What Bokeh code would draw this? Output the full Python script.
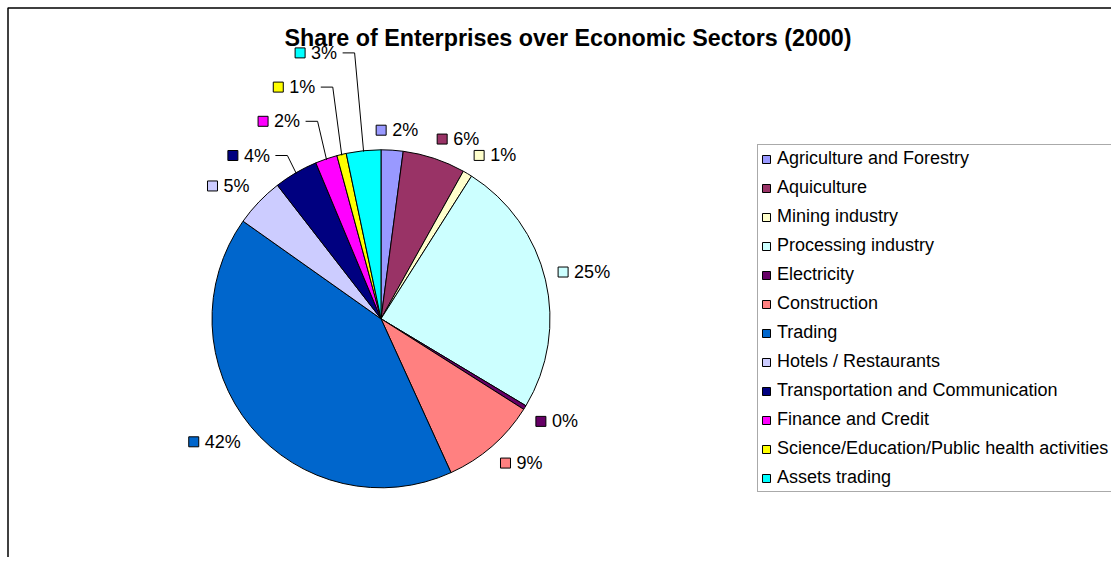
import math
from bokeh.plotting import figure
from bokeh.models import Range1d, Legend, LegendItem, Label, BoxAnnotation, ColumnDataSource
from bokeh.core.properties import value
from bokeh.embed import file_html
from bokeh.resources import INLINE

# ---------------- data ----------------
sectors = [
    "Agriculture and Forestry",
    "Aquiculture",
    "Mining industry",
    "Processing industry",
    "Electricity",
    "Construction",
    "Trading",
    "Hotels / Restaurants",
    "Transportation and Communication",
    "Finance and Credit",
    "Science/Education/Public health activities",
    "Assets trading",
]
shares = [2.1, 6.0, 0.9, 24.6, 0.4, 9.2, 41.6, 4.7, 4.2, 2.1, 0.9, 3.3]
colors = ["#9999FF", "#993366", "#FFFFCC", "#CCFFFF", "#660066", "#FF8080",
          "#0066CC", "#CCCCFF", "#000080", "#FF00FF", "#FFFF00", "#00FFFF"]
title_text = "Share of Enterprises over Economic Sectors (2000)"

# ---------------- layout ----------------
W, H = 1111, 557
CX, CY = 380.5, 318.3        # pie centre, px from figure's left / top
R = 169                      # pie radius, px
LABEL_R = 182                # distance of label anchor from centre
FONT = "Liberation Sans"
LABEL_PX = 18
LEADER_Y0, LEADER_DY = 163.3, 34.2
leader_level = [None] * 8 + [0, 1, 2, 3]

total = sum(shares)
fracs = [s / total for s in shares]
cum = [0.0]
for f in fracs:
    cum.append(cum[-1] + f)
start = [math.pi / 2 - 2 * math.pi * c for c in cum[:-1]]
end = [math.pi / 2 - 2 * math.pi * c for c in cum[1:]]
pct = [f"{round(f * 100)}%" for f in fracs]

p = figure(width=W, height=H,
           x_range=Range1d(-CX, W - CX), y_range=Range1d(-(H - CY), CY),
           output_backend="svg", toolbar_location=None,
           x_axis_location=None, y_axis_location=None,
           min_border=0, outline_line_color=None,
           background_fill_color="white", border_fill_color="white")
p.grid.visible = False

# chart-area border (its right / bottom edges fall outside the visible page)
p.add_layout(BoxAnnotation(left=7.5 - CX, top=CY - 7.5,
                           right=W - CX + 30, bottom=-(H - CY) - 30,
                           fill_alpha=0, line_color="black", line_width=1.5,
                           line_alpha=1.0))

src = ColumnDataSource(dict(name=sectors, start=start, end=end, color=colors))
wedges = p.wedge(x=0, y=0, radius=R, start_angle="start", end_angle="end",
                 direction="clock", fill_color="color", line_color="black",
                 line_width=1, source=src)

# ---------------- data labels ----------------
def clamp(v):
    return max(-1.0, min(1.0, v))

sq_x, sq_y, tx, ty = [], [], [], []
lead_xs, lead_ys = [], []
for i in range(len(shares)):
    th = 2 * math.pi * (cum[i] + cum[i + 1]) / 2
    s, c = math.sin(th), math.cos(th)
    w_text = LABEL_PX * (0.556 * (len(pct[i]) - 1) + 0.889)
    box_w = 16 + w_text
    hw, hh = box_w / 2, 7
    if leader_level[i] is None:
        ax, ay = LABEL_R * s, LABEL_R * c
        bx = ax + hw * clamp(3 * s)
        by = ay + hh * clamp(3 * c)
        left = bx - hw
        ly = by
    else:
        k = leader_level[i]
        ex, ey = (R - 1) * s, (R - 1) * c
        ly = LEADER_Y0 + LEADER_DY * k
        elbow = ex - 9
        text_end = elbow - 12 - 5.5
        left = text_end - w_text - 16
        lead_xs.append([ex, elbow, elbow - 12])
        lead_ys.append([ey, ly, ly])
    sq_x.append(left + 5)
    sq_y.append(ly)
    tx.append(left + 16)
    ty.append(ly)

p.multi_line(xs=lead_xs, ys=lead_ys, line_color="black", line_width=1)
p.scatter(x=sq_x, y=sq_y, marker="square", size=10, fill_color=colors,
          line_color="black", line_width=1)
p.text(x=tx, y=ty, text=pct, text_font=value(FONT), text_font_size=value("18px"),
       text_color="black", text_align="left", text_baseline="middle")

# ---------------- title ----------------
p.add_layout(Label(x=567.5, y=H - 37, x_units="screen", y_units="screen",
                   text=title_text, text_font=FONT, text_font_size="23.3px",
                   text_font_style="bold", text_color="black",
                   text_align="center", text_baseline="middle"))

# ---------------- legend ----------------
legend = Legend(
    items=[LegendItem(label=sectors[i], renderers=[wedges], index=i) for i in range(len(sectors))],
    location=(757, H - 492),
    glyph_width=10, glyph_height=10, label_standoff=6,
    label_text_font=FONT, label_text_font_size="18px", label_text_color="black",
    label_height=21, label_width=380, spacing=8, padding=3, margin=0,
    border_line_color="#555555", border_line_width=1,
    background_fill_color="white", background_fill_alpha=1.0,
)
p.add_layout(legend)

open("out.html", "w").write(file_html(p, INLINE))
